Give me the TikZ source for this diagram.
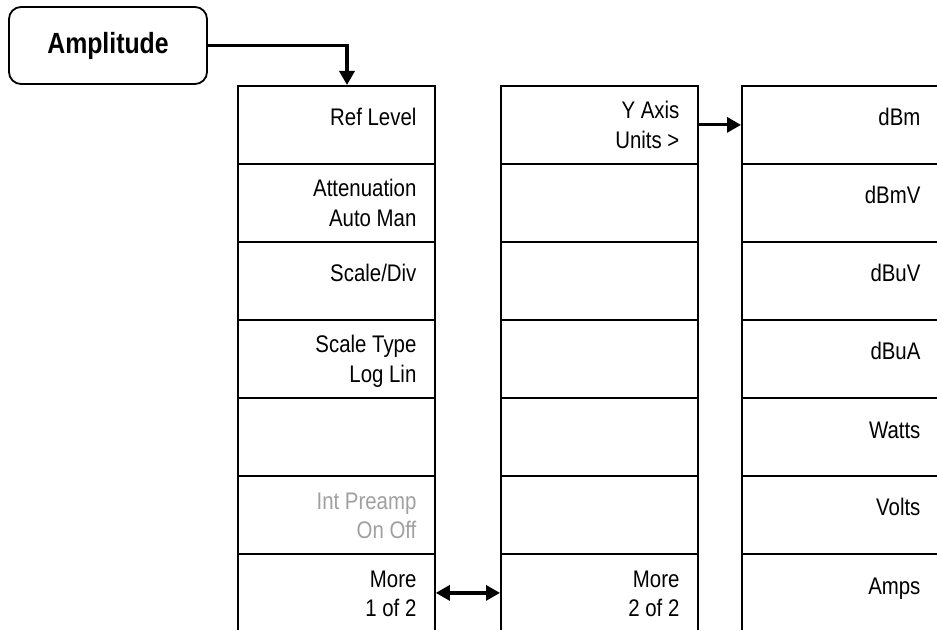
\documentclass[tikz,border=0pt]{standalone}
\usepackage{fontspec}
\setmainfont{Liberation Sans}[FakeStretch=0.85]
\usetikzlibrary{arrows.meta, positioning}
\definecolor{offgray}{RGB}{160,160,160}
\tikzset{
  cellbox/.style={rectangle, draw=black, line width=0.9pt, minimum width=98.5pt, minimum height=39pt, inner sep=0pt, anchor=north west},
  keytext/.style={anchor=base east, align=right, inner sep=0pt, font=\fontsize{12}{14.75}\selectfont},
  hardkey/.style={rectangle, rounded corners=6pt, draw=black, line width=0.9pt, minimum width=99pt, minimum height=38.5pt, font=\fontsize{14.6}{16}\selectfont\bfseries},
  menuarr/.style={line width=1.6pt, -{Triangle[length=7pt,width=7.5pt]}},
  bothmenuarr/.style={line width=1.6pt, {Triangle[length=7pt,width=7.5pt]}-{Triangle[length=7pt,width=7.5pt]}},
}

\begin{document}
\begin{tikzpicture}[x=0.5pt, y=-0.5pt]
\useasboundingbox (0,0) rectangle (937,630);

% front panel key
\node[hardkey] (amp) at (108,45.5) {Amplitude};

% three menu columns
\foreach \col/\x in {1/237, 2/500, 3/741}
  \foreach \r in {1,...,7}
    \node[cellbox] (c\col r\r) at (\x,{85+78*(\r-1)}) {};

% one-line labels
\foreach \cell/\txt in {c1r1/Ref Level, c1r3/{Scale/Div},
    c3r1/dBm, c3r2/dBmV, c3r3/dBuV, c3r4/dBuA, c3r5/Watts, c3r6/Volts, c3r7/Amps}
  \node[keytext] (t\cell) at ([xshift=-9.5pt, yshift=-20.5pt]\cell.north east) {\txt};

% two-line labels (base = last line)
\foreach \cell/\txt in {c1r2/{Attenuation\\Auto Man}, c1r4/{Scale Type\\Log Lin},
    c1r7/{More\\1 of 2}, c2r1/{Y Axis\\Units >}, c2r7/{More\\2 of 2}}
  \node[keytext] (t\cell) at ([xshift=-9.5pt, yshift=-31.75pt]\cell.north east) {\txt};
\node[keytext, text=offgray] (tc1r6) at ([xshift=-9.5pt, yshift=-31.75pt]c1r6.north east) {Int Preamp\\On Off};

% connectors
\coordinate (drop) at (347,85);
\draw[menuarr] (amp.east) -| (drop);
\draw[menuarr] (c2r1.east) -- (c3r1.west);
\draw[bothmenuarr] (c1r7.east) -- (c2r7.west);
\end{tikzpicture}
\end{document}
